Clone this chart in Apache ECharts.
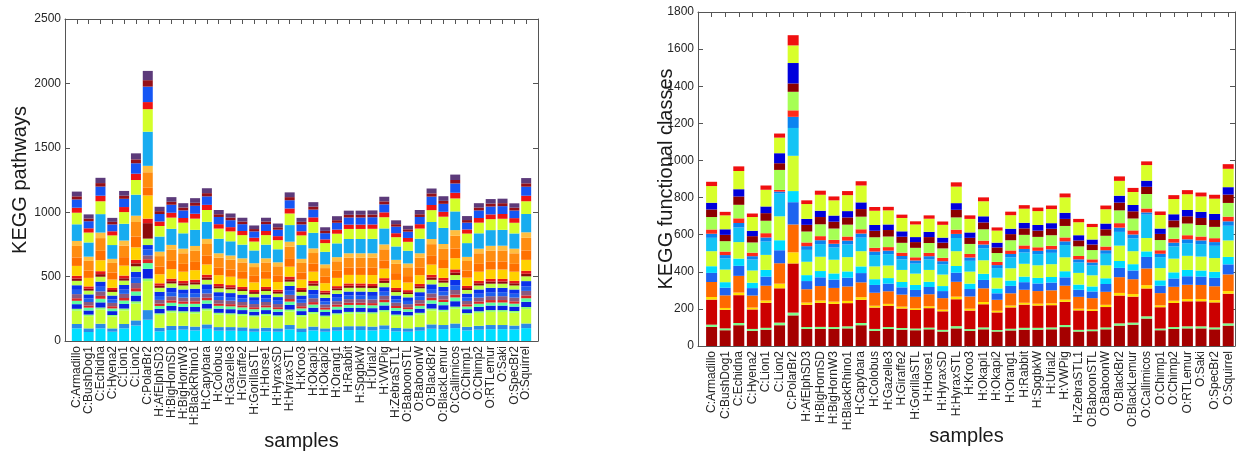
<!DOCTYPE html>
<html><head><meta charset="utf-8">
<script src="https://cdn.jsdelivr.net/npm/echarts@6/dist/echarts.min.js"></script>
<style>html,body{margin:0;padding:0;background:#fff}#c{width:1243px;height:456px}</style>
</head><body><div id="c"></div>
<script>
// ---- categories ----
const samples = ['C:Armadillo','C:BushDog1','C:Echidna','C:Hyena2','C:Lion1','C:Lion2','C:PolarBr2','H:AfElphSD3','H:BigHornSD','H:BigHornW3','H:BlackRhino1','H:Capybara','H:Colobus','H:Gazelle3','H:Giraffe2','H:GorillaSTL','H:Horse1','H:HyraxSD','H:HyraxSTL','H:Kroo3','H:Okapi1','H:Okapi2','H:Orang1','H:Rabbit','H:SpgbkW','H:Urial2','H:VWPig','H:ZebraSTL1','O:BaboonSTL','O:BaboonW','O:BlackBr2','O:BlackLemur','O:Callimicos','O:Chimp1','O:Chimp2','O:RTLemur','O:Saki','O:SpecBr2','O:Squirrel'];

// ---- left chart: KEGG pathways, stacked layers (bottom -> top) ----
const pw01 = [98,70,98,72,98,120,165,75,85,88,82,95,80,80,78,72,75,72,90,70,82,72,80,85,85,82,90,75,72,80,95,92,100,82,88,92,92,90,100];
const pw02 = [34,28,36,26,34,40,75,28,32,30,30,34,28,28,28,26,28,26,34,28,30,26,28,30,30,30,32,26,26,28,34,32,36,28,30,32,32,30,36];
const pw03 = [103,95,110,92,105,130,225,100,105,100,102,108,98,95,92,90,95,90,105,92,100,88,95,98,98,98,104,92,90,98,108,104,115,95,100,102,102,100,112];
const pw04 = [15,12,16,12,15,18,20,12,14,13,14,15,13,12,12,11,12,11,15,12,13,11,12,13,13,13,14,12,11,13,15,14,16,12,13,14,14,13,16];
const pw05 = [36,32,40,30,36,45,75,34,36,34,36,38,32,32,30,28,30,28,36,30,34,28,30,32,32,32,36,30,28,32,38,36,42,30,34,35,35,34,40];
const pw06 = [26,22,28,21,26,32,45,23,25,24,25,26,22,22,21,20,21,20,26,21,24,19,21,22,22,22,25,21,20,22,26,25,29,21,24,24,24,23,28];
const pw07 = [20,17,22,17,20,25,30,18,19,18,19,20,17,17,16,15,16,15,20,17,19,15,17,17,17,17,19,16,15,17,20,19,22,17,18,19,19,18,22];
const pw08 = [32,27,35,26,32,40,30,29,31,30,31,33,28,27,26,25,26,25,32,26,30,24,26,28,28,28,31,26,24,28,33,31,36,26,30,30,30,29,35];
const pw09 = [33,28,36,27,33,42,45,30,32,30,32,34,29,28,27,25,27,26,33,27,31,25,27,28,28,28,32,26,25,29,34,32,37,27,30,31,31,30,36];
const pw10 = [36,31,40,30,36,45,35,33,35,33,35,37,32,31,30,28,30,28,36,30,34,27,30,31,31,31,35,29,28,32,37,35,41,30,33,34,34,33,40];
const pw11 = [34,29,38,28,34,43,50,31,33,31,33,35,30,29,28,26,28,27,34,28,32,26,28,29,29,30,33,27,26,30,35,33,38,28,31,32,32,31,37];
const pw12 = [18,15,20,15,18,23,120,16,17,17,17,18,16,15,15,14,15,14,18,15,17,14,15,16,16,16,17,15,14,16,18,17,20,15,17,17,17,17,20];
const pw13 = [21,18,23,17,21,27,35,19,20,19,20,22,18,18,17,16,17,16,21,17,20,16,17,18,18,18,20,17,16,18,21,20,24,17,19,20,20,19,23];
const pw14 = [77,66,85,64,77,97,180,70,74,71,74,79,68,65,63,59,63,60,77,64,72,58,64,66,66,67,74,62,59,68,79,75,87,64,71,73,73,71,85];
const pw15 = [66,56,73,55,66,84,60,60,64,61,64,68,58,56,54,51,54,52,66,55,62,50,55,57,57,57,64,53,50,58,68,64,74,55,61,63,63,61,73];
const pw16 = [89,76,99,74,90,113,120,81,86,82,86,91,78,76,73,68,73,70,89,74,83,67,74,77,77,78,86,72,68,78,91,86,100,74,82,84,85,82,98];
const pw17 = [39,33,43,32,39,49,50,35,38,36,38,40,34,33,32,30,32,31,39,32,36,29,32,34,34,34,38,31,30,34,40,38,44,32,36,37,37,36,43];
const pw18 = [129,110,143,107,130,163,265,117,125,119,125,132,113,110,106,99,106,101,129,107,121,97,107,111,111,112,124,104,99,113,132,125,145,107,119,122,123,118,142];
const pw19 = [90,77,100,75,91,114,175,82,87,83,87,92,79,77,74,69,74,71,90,75,84,68,75,78,78,78,87,72,69,79,92,87,101,74,83,85,86,83,99];
const pw20 = [39,33,43,32,39,49,55,35,38,36,38,40,34,33,32,30,32,31,39,32,36,29,32,34,34,34,38,31,30,34,40,38,44,32,36,37,37,36,43];
const pw21 = [64,55,71,53,64,81,120,58,62,59,62,66,56,54,53,49,53,50,64,53,60,48,53,55,55,56,62,51,49,56,65,62,72,53,59,61,61,59,70];
const pw22 = [24,21,27,20,24,30,50,22,23,22,23,25,21,20,20,18,20,19,24,20,23,18,20,21,21,21,23,19,18,21,25,23,27,20,22,23,23,22,26];
const pw23 = [37,32,41,31,37,47,72,34,36,34,36,38,33,32,30,28,30,29,37,31,35,28,31,32,32,32,36,30,28,33,38,36,42,31,34,35,35,34,41];

// ---- right chart: KEGG functional classes, stacked layers (bottom -> top) ----
const fc01 = [103,85,112,82,88,112,165,92,92,92,95,112,82,92,88,85,90,78,95,82,90,78,84,88,88,90,102,78,80,90,110,115,148,85,92,95,95,90,110];
const fc02 = [12,10,12,10,10,14,15,10,11,10,11,12,10,10,9,9,9,9,12,9,10,8,9,10,10,10,11,9,9,10,12,11,12,9,10,11,11,10,12];
const fc03 = [135,100,150,105,135,185,265,120,130,125,125,125,115,115,105,100,105,100,145,100,125,95,115,125,120,120,125,105,100,110,150,140,150,115,130,135,135,135,160];
const fc04 = [14,10,14,10,12,25,60,12,12,12,12,14,10,10,10,9,10,9,14,10,12,9,10,10,10,10,12,9,9,12,14,14,18,10,12,12,12,12,14];
const fc05 = [81,68,90,65,80,110,150,72,78,74,78,80,70,68,65,62,65,62,80,66,74,59,66,70,68,70,75,64,60,70,85,80,90,66,75,77,76,75,90];
const fc06 = [49,41,54,40,49,70,120,44,47,45,47,50,42,41,39,37,39,38,49,40,45,35,40,41,41,42,45,38,36,42,50,47,62,40,45,46,45,45,54];
const fc07 = [36,30,39,29,36,54,60,32,34,33,34,36,31,30,29,27,28,27,36,29,33,26,29,30,30,30,33,28,27,31,37,34,30,29,33,34,33,33,40];
const fc08 = [81,68,89,66,81,129,190,72,77,74,77,82,69,68,65,61,64,62,80,65,73,58,66,69,68,69,75,63,60,70,83,70,72,66,74,76,75,74,89];
const fc09 = [72,60,79,59,72,123,150,64,68,66,68,73,61,61,57,54,57,55,71,58,65,52,59,61,60,61,66,56,53,62,74,69,126,59,66,68,67,66,79];
const fc10 = [22,18,24,18,22,10,60,20,21,20,21,22,19,19,18,17,17,17,22,18,20,16,18,19,18,19,20,17,16,19,23,21,12,18,20,21,20,20,24];
const fc11 = [23,19,25,19,23,9,35,20,22,21,22,23,20,19,18,17,18,18,23,19,21,17,19,19,19,19,21,18,17,20,24,22,21,19,21,22,21,21,25];
const fc12 = [67,56,73,55,67,108,100,59,64,61,64,68,57,57,53,51,53,51,66,54,61,48,55,57,56,57,62,52,50,58,69,64,78,55,61,63,62,61,74];
const fc13 = [41,34,45,34,41,36,45,36,39,37,39,41,35,35,33,31,32,31,41,33,37,30,33,35,34,35,38,32,30,35,42,39,39,33,38,39,38,37,45];
const fc14 = [36,30,39,29,36,54,110,32,34,33,34,36,31,30,29,27,28,27,36,29,33,26,29,30,30,30,33,28,27,31,37,34,33,29,33,34,33,33,40];
const fc15 = [90,75,98,74,90,84,95,80,86,82,86,91,77,76,72,68,71,69,89,73,81,65,73,76,75,76,83,70,67,77,80,70,84,73,82,85,83,82,99];
const fc16 = [23,19,25,19,23,22,55,20,22,21,22,23,20,19,18,17,18,18,23,19,21,17,19,19,19,19,21,18,17,20,24,22,20,19,21,22,21,21,25];

const leftLayers = [pw01,pw02,pw03,pw04,pw05,pw06,pw07,pw08,pw09,pw10,pw11,pw12,pw13,pw14,pw15,pw16,pw17,pw18,pw19,pw20,pw21,pw22,pw23];
const leftColors = ['#00DEFF','#2A8CE6','#C8FF34','#8CFF6E','#0A22E2','#5CFFA0','#DC2626','#8A5A7E','#1E5FEE','#0A32EA','#BEFF46','#8C0A0A','#E61818','#FFD200','#FF7000','#FF8C10','#FFBE40','#18ACF0','#D4FF2A','#F01414','#1656F4','#961018','#5C3A7A'];
const rightLayers = [fc01,fc02,fc03,fc04,fc05,fc06,fc07,fc08,fc09,fc10,fc11,fc12,fc13,fc14,fc15,fc16];
const rightColors = ['#A50000','#7CFF8A','#CC0000','#FFE000','#FF6A00','#1E64F0','#00DCFF','#D2FF2E','#14C4F5','#0A84F0','#FF2A1A','#A6FF55','#8C0000','#0000DC','#D8FF2A','#F01010'];

[...leftLayers, ...rightLayers].forEach((a, i) => { if (a.length !== samples.length) throw new Error('layer ' + i + ' has ' + a.length); });

const FONT = 'Liberation Sans, Arial, sans-serif';
const AX = '#555';
const TXT = '#262626';

// left x: positions 0..40, bars at 1..39
const leftCats = ['', ...samples, ''];
// right x: half-unit positions 0..39.5, bars at 1..39
const rightCats = [];
for (let j = 0; j < 80; j++) rightCats.push(j % 2 === 0 && j >= 2 && j <= 78 ? samples[j / 2 - 1] : '');
const rightTick = (idx) => idx % 2 === 0 && idx > 0 && idx <= 78;

function xAx(grid, cats, pos, tickFn, withName, gap) {
  return {
    gridIndex: grid, type: 'category', data: cats, boundaryGap: false, position: pos,
    axisLine: { show: true, onZero: false, lineStyle: { color: AX, width: 1 } },
    axisTick: { show: true, inside: true, length: 5, interval: tickFn, lineStyle: { color: AX } },
    axisLabel: withName ? { show: true, interval: 0, rotate: 90, fontSize: 12, color: TXT, margin: 5, fontFamily: FONT } : { show: false },
    splitLine: { show: false },
    name: withName ? 'samples' : '', nameLocation: 'middle', nameGap: gap, nameMoveOverlap: false,
    nameTextStyle: { fontSize: 20, color: '#1a1a1a', fontFamily: FONT }
  };
}
function yAx(grid, max, interval, pos, name, gap) {
  return {
    gridIndex: grid, type: 'value', min: 0, max: max, interval: interval, position: pos,
    axisLine: { show: true, lineStyle: { color: AX, width: 1 } },
    axisTick: { show: true, inside: true, length: 5, lineStyle: { color: AX } },
    axisLabel: name ? { show: true, fontSize: 12, color: TXT, margin: 4, fontFamily: FONT, formatter: (v) => String(v) } : { show: false },
    splitLine: { show: false },
    name: name || '', nameLocation: 'middle', nameGap: gap, nameMoveOverlap: false,
    nameTextStyle: { fontSize: 20, color: '#1a1a1a', fontFamily: FONT }
  };
}

const series = [];
leftLayers.forEach((arr, i) => {
  series.push({
    type: 'bar', stack: 'L', xAxisIndex: 0, yAxisIndex: 0, barWidth: 10,
    itemStyle: { color: leftColors[i] }, silent: true,
    data: [null, ...arr, null]
  });
});
rightLayers.forEach((arr, i) => {
  const d = [];
  for (let j = 0; j < 80; j++) d.push(j % 2 === 0 && j >= 2 && j <= 78 ? arr[j / 2 - 1] : null);
  series.push({
    type: 'bar', stack: 'R', xAxisIndex: 2, yAxisIndex: 2, barWidth: 11,
    itemStyle: { color: rightColors[i] }, silent: true,
    data: d
  });
});

const option = {
  animation: false,
  backgroundColor: '#ffffff',
  grid: [
    { left: 65, top: 19, width: 473, height: 323 },
    { left: 698, top: 12, width: 537, height: 334 }
  ],
  xAxis: [
    xAx(0, leftCats, 'bottom', 0, true, 90),
    xAx(0, leftCats, 'top', 0, false, 0),
    xAx(1, rightCats, 'bottom', rightTick, true, 80),
    xAx(1, rightCats, 'top', rightTick, false, 0)
  ],
  yAxis: [
    yAx(0, 2500, 500, 'left', 'KEGG pathways', 35),
    yAx(0, 2500, 500, 'right', '', 0),
    yAx(1, 1800, 200, 'left', 'KEGG functional classes', 22),
    yAx(1, 1800, 200, 'right', '', 0)
  ],
  series: series
};

const chart = echarts.init(document.getElementById('c'), null, { renderer: 'canvas' });
chart.setOption(option);
</script>
</body></html>
